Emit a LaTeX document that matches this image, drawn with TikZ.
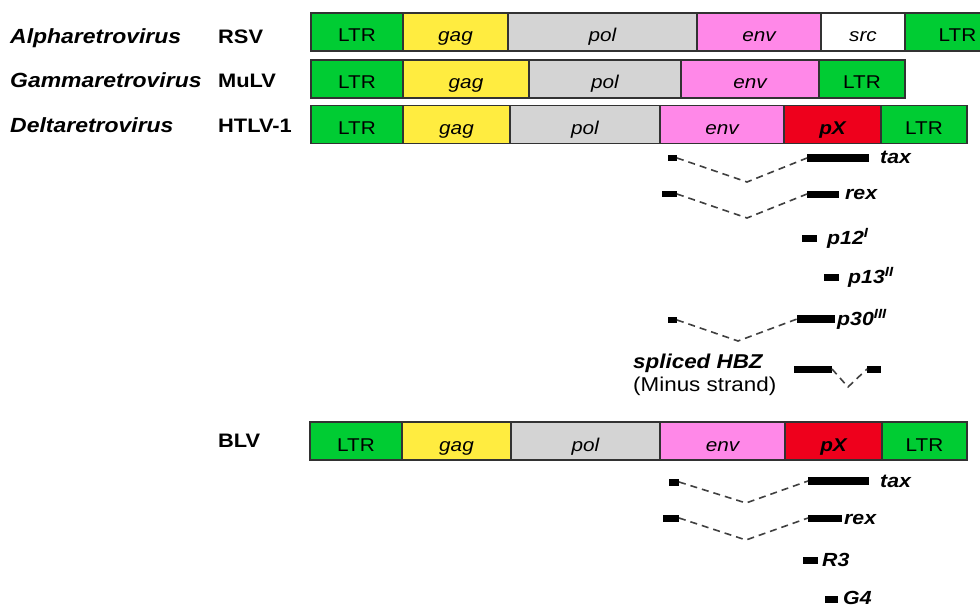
\documentclass[tikz,border=0pt]{standalone}
\usepackage{fontspec}
\setmainfont{Liberation Sans}[FakeStretch=1.12]
\usetikzlibrary{calc}
\newcommand\fsz[1]{\fontsize{#1}{#1}\selectfont}
\definecolor{ltrgreen}{RGB}{0,204,51}
\definecolor{gagyellow}{RGB}{255,236,64}
\definecolor{polgray}{RGB}{212,212,212}
\definecolor{envpink}{RGB}{255,136,232}
\definecolor{pxred}{RGB}{238,0,28}
\definecolor{edge}{RGB}{50,50,50}
\tikzset{
  seg/.style={draw=edge, line width=1.3pt, minimum height=38pt, inner sep=0pt, outer sep=0pt,
    anchor=west, text height=22pt, text depth=2pt, font=\fsz{18.5}},
  title/.style={anchor=base west, inner sep=0pt, font=\fsz{20.5}\bfseries\itshape},
  vname/.style={anchor=base west, inner sep=0pt, font=\fsz{19.5}\bfseries},
  glab/.style={anchor=base west, inner sep=0pt, font=\fsz{19}\bfseries\itshape},
  note/.style={anchor=base west, inner sep=0pt, font=\fsz{20}},
  exon/.style={fill=black, draw=none, inner sep=0pt, outer sep=0pt, minimum height=7pt},
  splice/.style={line width=1.6pt, draw=black!75, dash pattern=on 7pt off 5pt}
}
\newcommand\gseg[6]{\node[seg, fill=#5, minimum width=#3pt-#2pt] (#1) at (#2,#4) {#6};}
\begin{document}
\begin{tikzpicture}[x=1pt,y=-1pt]
\useasboundingbox (0,0) rectangle (980,607);
\clip (0,0) rectangle (980,607);

% titles
\node[title] (t1) at (10,44) {Alpharetrovirus};
\node[title] (t2) at (10,88) {Gammaretrovirus};
\node[title] (t3) at (10,133) {Deltaretrovirus};
\node[vname] (v1) at (218,44) {RSV};
\node[vname] (v2) at (218,88) {MuLV};
\node[vname] (v3) at (218,133) {HTLV-1};
\node[vname] (v4) at (218,447) {BLV};

% RSV
\gseg{a1}{311}{403}{32}{ltrgreen}{LTR}
\gseg{a2}{403}{508}{32}{gagyellow}{\itshape gag}
\gseg{a3}{508}{697}{32}{polgray}{\itshape pol}
\gseg{a4}{697}{821}{32}{envpink}{\itshape env}
\gseg{a5}{821}{905}{32}{white}{\itshape src}
\gseg{a6}{905}{1010}{32}{ltrgreen}{LTR}

% MuLV
\gseg{b1}{311}{403}{79}{ltrgreen}{LTR}
\gseg{b2}{403}{529}{79}{gagyellow}{\itshape gag}
\gseg{b3}{529}{681}{79}{polgray}{\itshape pol}
\gseg{b4}{681}{819}{79}{envpink}{\itshape env}
\gseg{b5}{819}{905}{79}{ltrgreen}{LTR}

% HTLV-1
\gseg{c1}{311}{403}{124.5}{ltrgreen}{LTR}
\gseg{c2}{403}{510}{124.5}{gagyellow}{\itshape gag}
\gseg{c3}{510}{660}{124.5}{polgray}{\itshape pol}
\gseg{c4}{660}{784}{124.5}{envpink}{\itshape env}
\gseg{c5}{784}{881}{124.5}{pxred}{\bfseries\itshape pX}
\gseg{c6}{881}{967}{124.5}{ltrgreen}{LTR}

% BLV
\gseg{d1}{310}{402}{441}{ltrgreen}{LTR}
\gseg{d2}{402}{511}{441}{gagyellow}{\itshape gag}
\gseg{d3}{511}{660}{441}{polgray}{\itshape pol}
\gseg{d4}{660}{785}{441}{envpink}{\itshape env}
\gseg{d5}{785}{882}{441}{pxred}{\bfseries\itshape pX}
\gseg{d6}{882}{967}{441}{ltrgreen}{LTR}

% HTLV-1 transcripts
\node[exon, minimum width=9pt, minimum height=6pt] (htax1) at (672.5,158) {};
\node[exon, minimum width=62pt, minimum height=8pt] (htax2) at (838,158) {};
\coordinate (htaxv) at (747,182);
\draw[splice] (htax1.east) -- (htaxv) -- (htax2.west);
\node[glab] (lhtax) at (880,164) {tax};

\node[exon, minimum width=15pt, minimum height=6pt] (hrex1) at (669.5,194) {};
\node[exon, minimum width=32pt] (hrex2) at (823,194) {};
\coordinate (hrexv) at (747,218);
\draw[splice] (hrex1.east) -- (hrexv) -- (hrex2.west);
\node[glab] (lhrex) at (845,200) {rex};

\node[exon, minimum width=15pt] (hp12) at (809.5,238) {};
\node[glab] (lhp12) at (827,244) {p12\textsuperscript{I}};

\node[exon, minimum width=15pt] (hp13) at (831.5,277) {};
\node[glab] (lhp13) at (848,283) {p13\textsuperscript{II}};

\node[exon, minimum width=9pt, minimum height=6pt] (hp301) at (672.5,320) {};
\node[exon, minimum width=38pt, minimum height=8pt] (hp302) at (816,319) {};
\coordinate (hp30v) at (738,341);
\draw[splice] (hp301.east) -- (hp30v) -- (hp302.west);
\node[glab] (lhp30) at (837,325) {p30\textsuperscript{III}};

\node[note, font=\fsz{20}\bfseries\itshape] (lhbz) at (633,368) {spliced HBZ};
\node[note] (lminus) at (633,391) {(Minus strand)};
\node[exon, minimum width=38pt] (hbz1) at (813,369) {};
\node[exon, minimum width=14pt] (hbz2) at (874,369) {};
\coordinate (hbzv) at (848,387);
\draw[splice] (hbz1.east) -- (hbzv) -- (hbz2.west);

% BLV transcripts
\node[exon, minimum width=10pt] (btax1) at (674,482) {};
\node[exon, minimum width=61pt, minimum height=8pt] (btax2) at (838.5,481) {};
\coordinate (btaxv) at (746,503);
\draw[splice] (btax1.east) -- (btaxv) -- (btax2.west);
\node[glab] (lbtax) at (880,487) {tax};

\node[exon, minimum width=16pt] (brex1) at (671,518) {};
\node[exon, minimum width=34pt] (brex2) at (825,518) {};
\coordinate (brexv) at (746,540);
\draw[splice] (brex1.east) -- (brexv) -- (brex2.west);
\node[glab] (lbrex) at (844,524) {rex};

\node[exon, minimum width=15pt] (br3) at (810.5,560) {};
\node[glab] (lbr3) at (822,566) {R3};

\node[exon, minimum width=13pt] (bg4) at (831.5,599) {};
\node[glab] (lbg4) at (843,604) {G4};
\end{tikzpicture}
\end{document}
